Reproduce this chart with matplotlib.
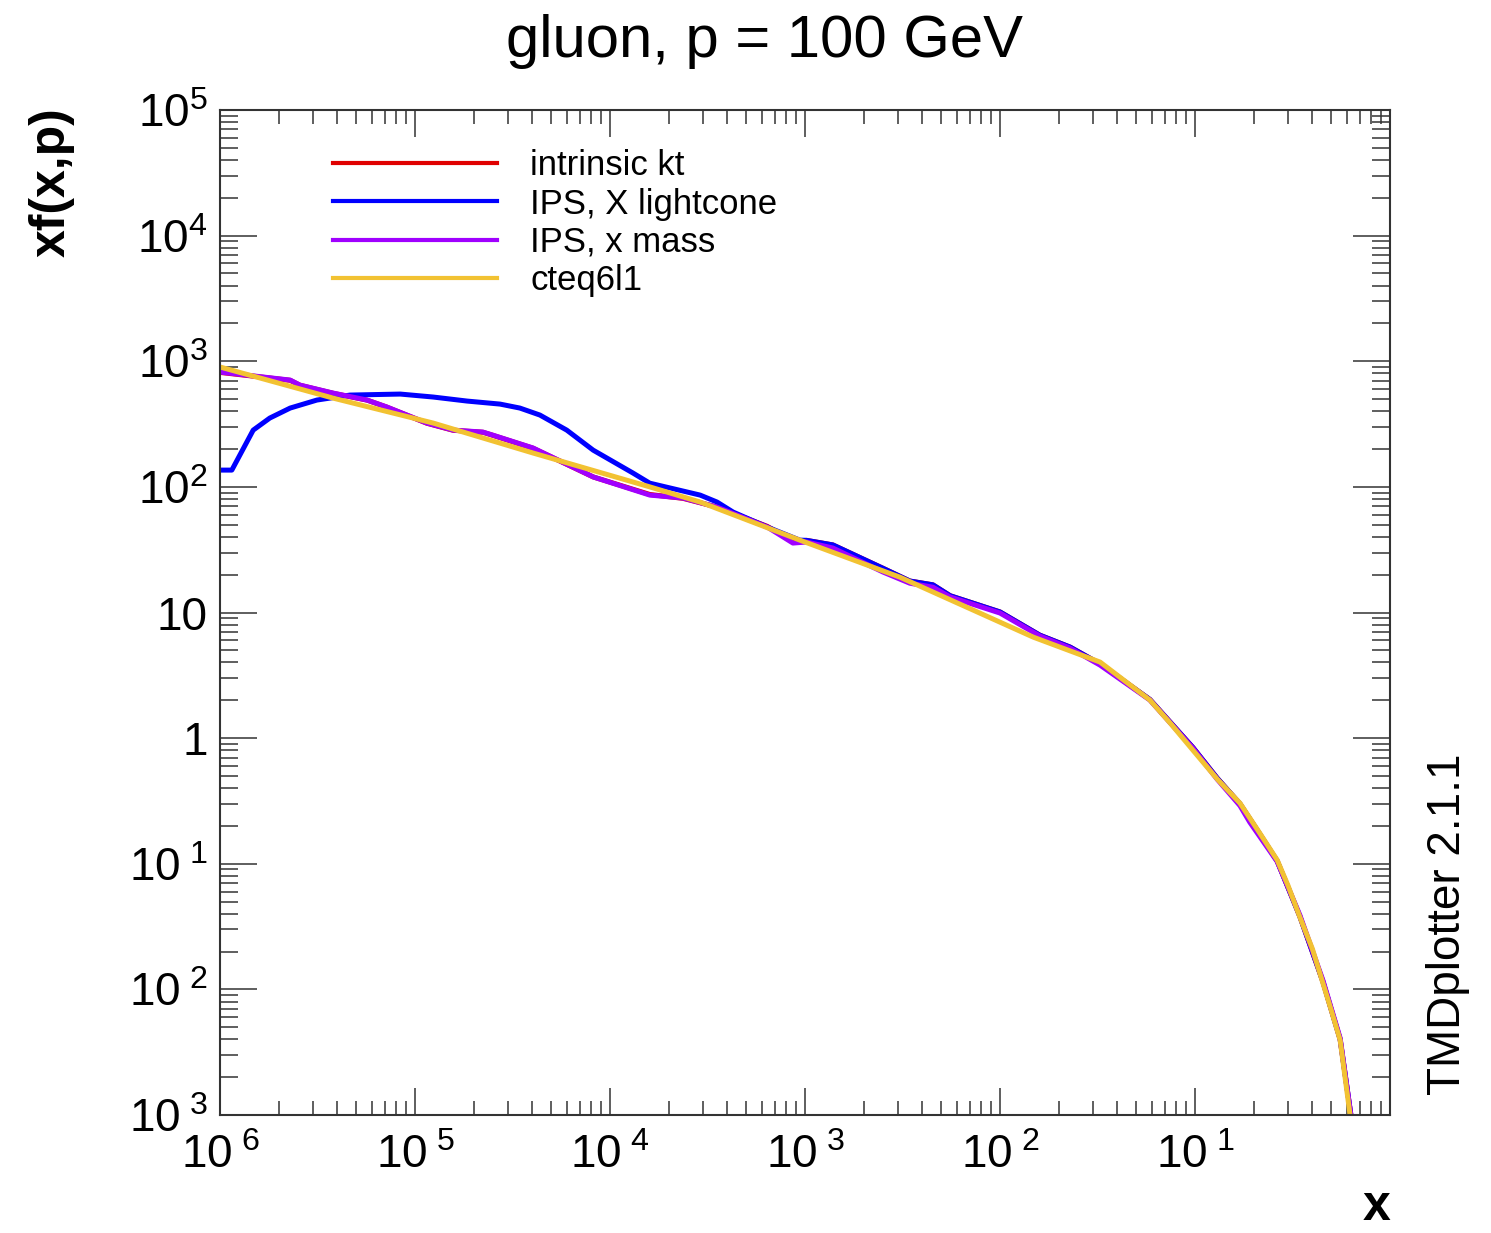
import matplotlib
matplotlib.use("Agg")
import matplotlib.pyplot as plt
import numpy as np

plt.rcParams['font.family'] = ['Liberation Sans', 'DejaVu Sans']
plt.rcParams['mathtext.fontset'] = 'custom'
plt.rcParams['mathtext.rm'] = 'Liberation Sans'
plt.rcParams['mathtext.it'] = 'Liberation Sans'

# values
x_kt = [1e-6, 2.29e-6, 2.57e-6, 3.8e-6, 5.68e-6, 7.18e-6, 1.15e-5, 1.57e-5, 2.23e-5, 2.51e-5,
        4.03e-5, 8.2e-5, 1.6e-4, 2.37e-4, 3.54e-4, 6.4e-4, 8.67e-4, 1.02e-3, 1.39e-3, 2.51e-3,
        3.45e-3, 4.53e-3, 5.55e-3, 1e-2, 1.6e-2, 2.29e-2, 3.26e-2, 5.87e-2, 9.77e-2, 0.13,
        0.17, 0.215, 0.264, 0.345, 0.453, 0.555, 0.63, 0.68]
f_kt = [815, 705, 644, 556, 490, 431, 321, 282, 272, 257,
        203, 120, 87, 81, 69, 48.5, 37, 37.5, 34.5, 22.5,
        17.8, 16.6, 13.6, 10.1, 6.6, 5.3, 3.9, 2.03, 0.84, 0.48,
        0.30, 0.172, 0.105, 0.038, 0.0115, 0.004, 0.001, 0.0003]

x_lc = [1e-6, 1.15e-6, 1.48e-6, 1.8e-6, 2.29e-6, 3.14e-6, 4.64e-6, 8.4e-6, 1.24e-5, 1.85e-5,
        2.73e-5, 3.45e-5, 4.37e-5, 6.0e-5, 8.2e-5, 1.31e-4, 1.6e-4, 2.9e-4, 3.54e-4, 4.28e-4,
        6.4e-4, 9.4e-4, 1.02e-3, 1.39e-3, 2.51e-3, 3.45e-3, 4.53e-3, 5.55e-3, 1e-2, 1.6e-2,
        2.29e-2, 3.26e-2, 5.87e-2, 9.77e-2, 0.13, 0.17, 0.215, 0.264, 0.345, 0.453, 0.555,
        0.63, 0.68]
f_lc = [136, 136, 283, 353, 424, 491, 538, 548, 519, 482,
        456, 424, 373, 283, 196, 129, 107, 86, 75.7, 63,
        47.9, 37.7, 37.5, 34.5, 22.5, 17.8, 16.6, 13.6, 10.1, 6.6,
        5.3, 3.9, 2.03, 0.84, 0.48, 0.30, 0.172, 0.105, 0.038, 0.0115, 0.004,
        0.001, 0.0003]

x_mass = [1e-6, 2.29e-6, 2.57e-6, 3.8e-6, 5.68e-6, 7.18e-6, 1.15e-5, 1.57e-5, 2.23e-5, 2.51e-5,
          4.03e-5, 8.2e-5, 1.6e-4, 2.37e-4, 3.54e-4, 6.4e-4, 8.67e-4, 1.02e-3, 1.39e-3, 2.51e-3,
          3.45e-3, 4.53e-3, 5.55e-3, 1e-2, 1.6e-2, 2.29e-2, 3.26e-2, 5.87e-2, 9.77e-2, 0.13,
          0.17, 0.191, 0.264, 0.345, 0.453, 0.555, 0.63, 0.68]
f_mass = [820, 708, 646, 558, 491, 432, 322, 283, 273, 258,
          204, 120, 86, 81.5, 69, 47.9, 35.7, 36.4, 32.6, 21,
          17.1, 15.9, 13.3, 9.9, 6.5, 5.2, 3.81, 2.01, 0.83, 0.47,
          0.29, 0.214, 0.104, 0.039, 0.0118, 0.0041, 0.001, 0.0003]

x_cteq = [1e-6, 3.8e-6, 1.24e-5, 4.03e-5, 1.6e-4, 2.9e-4, 9.4e-4, 3.07e-3, 1.48e-2, 3.26e-2,
          5.87e-2, 7.55e-2, 9.77e-2, 0.13, 0.17, 0.215, 0.264, 0.30, 0.345, 0.40, 0.453,
          0.50, 0.555, 0.624, 0.68]
f_cteq = [900, 509, 322, 186, 100, 75.7, 37.7, 19.1, 6.37, 4.03,
          2.01, 1.29, 0.80, 0.472, 0.304, 0.175, 0.107, 0.067, 0.0376, 0.021, 0.0112,
          0.0068, 0.00394, 0.001, 0.0003]

x_ticks = [1e-6, 1e-5, 1e-4, 1e-3, 1e-2, 1e-1]
x_ticklabels = [r'$\mathrm{10}^{\ 6}$', r'$\mathrm{10}^{\ 5}$', r'$\mathrm{10}^{\ 4}$',
                r'$\mathrm{10}^{\ 3}$', r'$\mathrm{10}^{\ 2}$', r'$\mathrm{10}^{\ 1}$']
y_ticks = [1e5, 1e4, 1e3, 1e2, 10, 1, 1e-1, 1e-2, 1e-3]
y_ticklabels = [r'$\mathrm{10}^{5}$', r'$\mathrm{10}^{4}$', r'$\mathrm{10}^{3}$', r'$\mathrm{10}^{2}$',
                '10', '1', r'$\mathrm{10}^{\ 1}$', r'$\mathrm{10}^{\ 2}$', r'$\mathrm{10}^{\ 3}$']

fig = plt.figure(figsize=(14.91, 12.33), dpi=100)
ax = fig.add_axes([220/1491, 1-1115/1233, 1170/1491, 1005/1233])

lw = 3.6
ax.plot(x_kt, f_kt, color='#e00000', lw=lw, label='intrinsic kt')
ax.plot(x_lc, f_lc, color='#0000ff', lw=lw, label='IPS, X lightcone')
ax.plot(x_mass, f_mass, color='#a000ff', lw=lw, label='IPS, x mass')
ax.plot(x_cteq, f_cteq, color='#f2c232', lw=lw, label='cteq6l1')

ax.set_xscale('log')
ax.set_yscale('log')
ax.set_xlim(1e-6, 1)
ax.set_ylim(1e-3, 1e5)

ax.set_xticks(x_ticks)
ax.set_xticklabels(x_ticklabels)
ax.set_yticks(y_ticks)
ax.set_yticklabels(y_ticklabels)
ax.xaxis.set_minor_locator(matplotlib.ticker.LogLocator(base=10, subs=np.arange(2, 10), numticks=20))
ax.yaxis.set_minor_locator(matplotlib.ticker.LogLocator(base=10, subs=np.arange(2, 10), numticks=20))
ax.xaxis.set_minor_formatter(matplotlib.ticker.NullFormatter())
ax.yaxis.set_minor_formatter(matplotlib.ticker.NullFormatter())

ax.tick_params(which='both', direction='in', top=True, right=True, width=1.1, color='#333333')
ax.tick_params(axis='x', which='major', length=19.5, labelsize=33, pad=14)
ax.tick_params(axis='x', which='minor', length=10)
ax.tick_params(axis='y', which='major', length=26.5, labelsize=33, pad=9)
ax.tick_params(axis='y', which='minor', length=13)
for s in ax.spines.values():
    s.set_linewidth(1.5)
    s.set_color('#333333')

leg = ax.legend(loc='upper left', bbox_to_anchor=(0.0966, 0.961), frameon=False, fontsize=25,
                handlelength=4.73, handletextpad=0.95, labelspacing=0.153, borderpad=0, borderaxespad=0)
for h in leg.get_lines():
    h.set_linewidth(3)

fig.text(765/1491, 1-57/1233, 'gluon, p = 100 GeV', ha='center', va='baseline', fontsize=43)
fig.text(52/1491, 1-107/1233, 'xf(x,p)', rotation=90, ha='center', va='top', fontsize=36, fontweight='bold')
fig.text(1390/1491, 1-1230/1233, 'x', ha='right', va='bottom', fontsize=36, fontweight='bold')
fig.text(1448/1491, 1-1095/1233, 'TMDplotter 2.1.1', rotation=90, ha='center', va='bottom', fontsize=33)

fig.savefig('out.png', dpi=100)
